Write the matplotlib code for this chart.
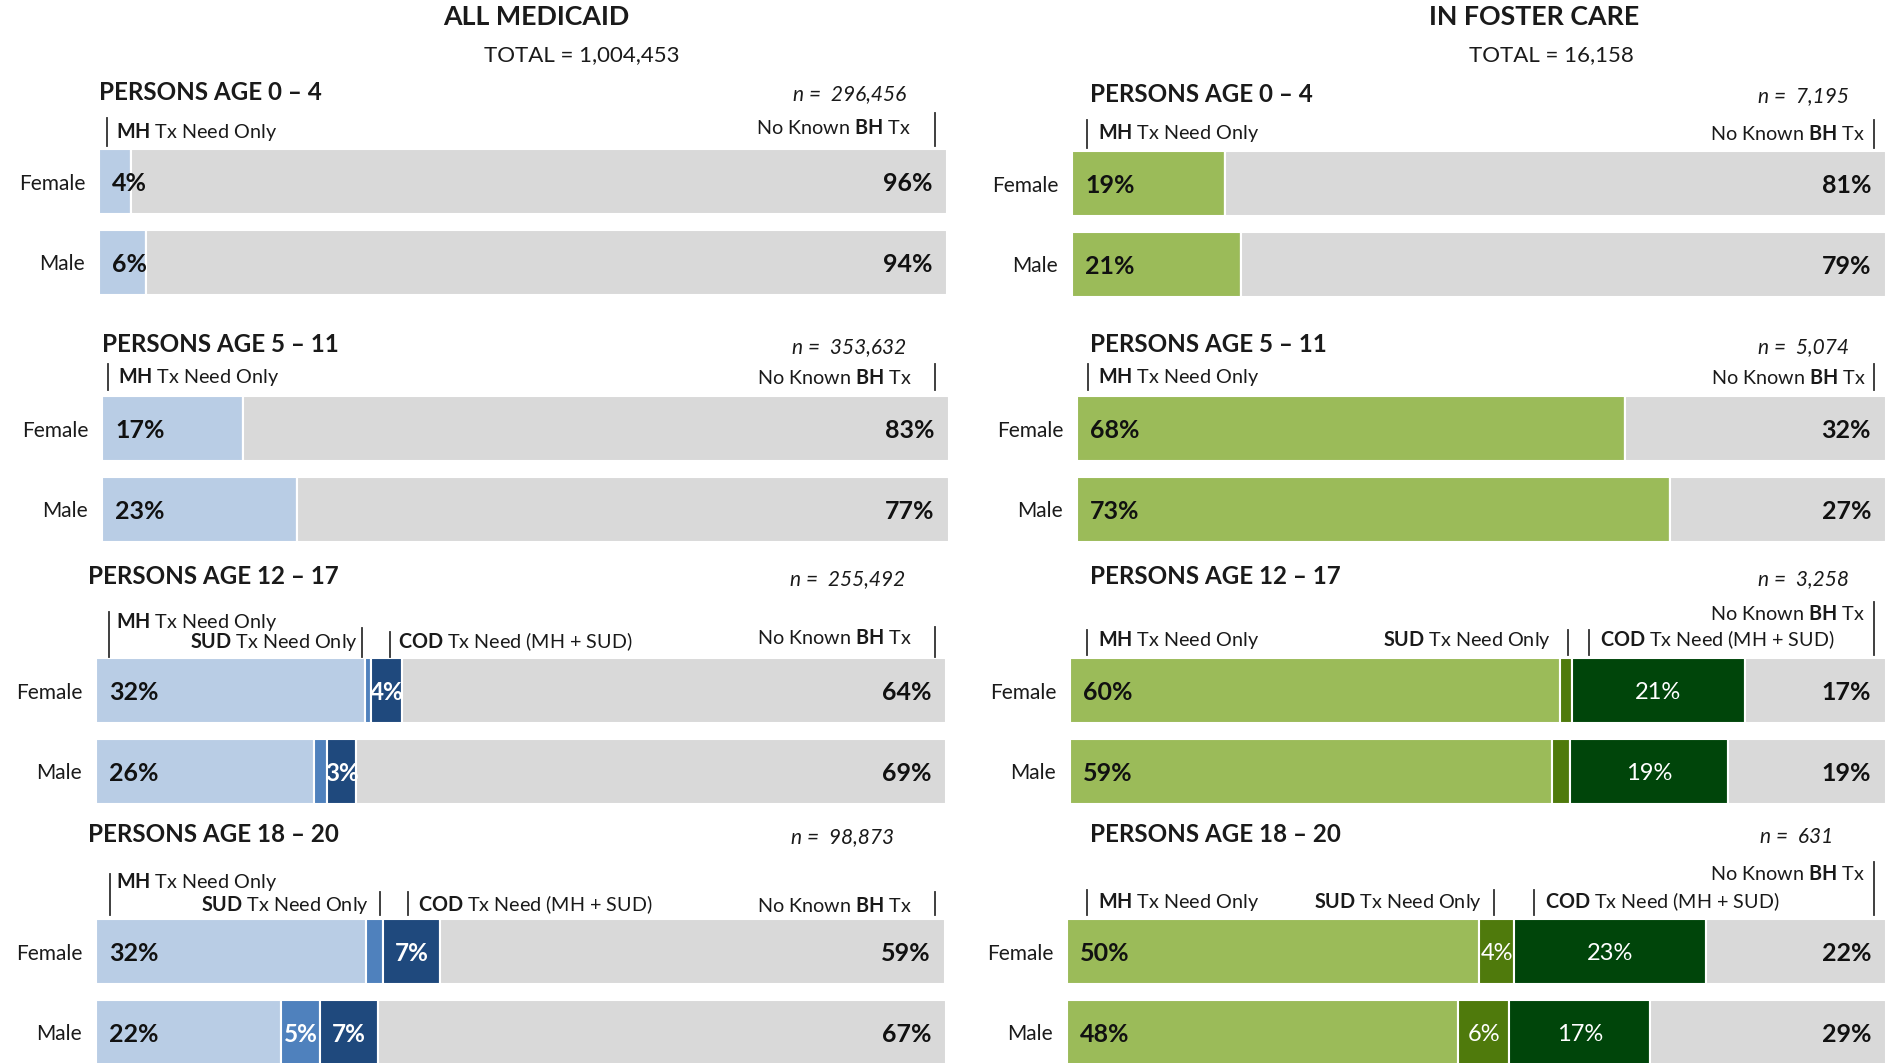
import matplotlib
matplotlib.use('Agg')
import matplotlib.pyplot as plt
import matplotlib.transforms as mtransforms
from matplotlib.lines import Line2D

plt.rcParams['font.family'] = ['Lato', 'DejaVu Sans']
plt.rcParams['mathtext.fontset'] = 'custom'
plt.rcParams['mathtext.rm'] = 'Lato'
plt.rcParams['mathtext.bf'] = 'Lato:bold'
plt.rcParams['mathtext.it'] = 'Lato:italic'

# ---------------- data ----------------
sexes = ['Female', 'Male']
age_groups = ['PERSONS AGE 0 – 4', 'PERSONS AGE 5 – 11',
              'PERSONS AGE 12 – 17', 'PERSONS AGE 18 – 20']

medicaid_total = '1,004,453'
foster_total = '16,158'
medicaid_n = ['296,456', '353,632', '255,492', '98,873']
foster_n = ['7,195', '5,074', '3,258', '631']

# percent of persons, [female, male] for each age group
medicaid_mh = [[3.8, 5.6], [16.6, 23.0], [31.6, 25.6], [31.8, 21.8]]
medicaid_sud = [[0, 0], [0, 0], [0.8, 1.6], [2.0, 4.6]]
medicaid_cod = [[0, 0], [0, 0], [3.6, 3.4], [6.7, 6.8]]
medicaid_none = [[96.2, 94.4], [83.4, 77.0], [64.0, 69.4], [59.4, 66.8]]

foster_mh = [[18.8, 20.8], [67.7, 73.3], [60.0, 59.1], [50.3, 47.8]]
foster_sud = [[0, 0], [0, 0], [1.5, 2.2], [4.3, 6.2]]
foster_cod = [[0, 0], [0, 0], [21.2, 19.3], [23.4, 17.2]]
foster_none = [[81.2, 79.2], [32.3, 26.7], [17.3, 19.4], [22.0, 28.8]]

# ---------------- styling ----------------
W, H = 1901, 1063
GREY = '#D9D9D9'
blues = ['#B9CDE5', '#4F81BD', '#1F497D', GREY]
greens = ['#9BBB59', '#4F7A0C', '#00450A', GREY]
LINE = '#303030'
HDR = 14.2

fig = plt.figure(figsize=(W / 100, H / 100), dpi=100)
fig.patch.set_facecolor('white')

# figure pixel coords, origin top-left
T = mtransforms.Affine2D().scale(1 / W, -1 / H).translate(0, 1) + fig.transFigure


def txt(x, y, s, ha='left', size=HDR, **kw):
    fig.text(x, y, s, transform=T, ha=ha, va='center', fontsize=size, color='#1a1a1a', **kw)


def tick(x, y0, y1):
    fig.add_artist(Line2D([x, x], [y0, y1], transform=T, color=LINE, lw=1.3))


def bars(x0, x1, ytop, mh, sud, cod, none, colors, inner_bold):
    bh = 146
    ax = fig.add_axes([x0 / W, 1 - (ytop + bh) / H, (x1 - x0) / W, bh / H])
    left = [0, 0]
    for k, vals in enumerate([mh, sud, cod, none]):
        ax.barh([0, 1], vals, left=left, height=0.81, color=colors[k],
                edgecolor='white', linewidth=1.5)
        for i, v in enumerate(vals):
            if k == 0:
                ax.annotate(f'{v:.0f}%', (0, i), xytext=(13, 0), textcoords='offset pixels',
                            ha='left', va='center_baseline', fontsize=18, fontweight='bold',
                            color='#111111')
            elif k == 3:
                ax.annotate(f'{v:.0f}%', (100, i), xytext=(-15, 0), textcoords='offset pixels',
                            ha='right', va='center_baseline', fontsize=18, fontweight='bold',
                            color='#111111')
            elif v >= 3:
                ax.text(left[i] + v / 2, i, f'{v:.0f}%', ha='center', va='center_baseline',
                        fontsize=17.5 if inner_bold else 17,
                        fontweight='bold' if inner_bold else 'normal', color='white')
        left = [left[i] + vals[i] for i in range(2)]
    ax.set_xlim(0, 100)
    ax.set_ylim(1.405, -0.405)
    ax.set_yticks([0, 1], sexes, fontsize=15, color='#1a1a1a')
    ax.tick_params(axis='y', length=0, pad=10)
    ax.set_xticks([])
    for s in ax.spines.values():
        s.set_visible(False)
    return ax


# ---------------- left: all medicaid ----------------
txt(536, 17, 'ALL MEDICAID', ha='center', size=19.3, fontweight='bold')
txt(582, 55, 'TOTAL = ' + medicaid_total, ha='center', size=16)

left_x = [(99, 947), (102, 949), (96, 946), (96, 946)]
left_top = [149, 396, 658, 919]
left_title_y = [92, 345, 577, 835]
left_n_x = [906, 906, 905, 894]
for g in range(4):
    x0, x1 = left_x[g]
    bars(x0, x1, left_top[g], medicaid_mh[g], medicaid_sud[g], medicaid_cod[g],
         medicaid_none[g], blues, True)
    txt(x0 - (8 if g >= 2 else 0), left_title_y[g], age_groups[g], size=17.4, fontweight='bold')
    txt(left_n_x[g], left_title_y[g] + 2, 'n =  ' + medicaid_n[g], ha='right', size=15,
        style='italic')

# header rows
txt(116, 132, r'$\mathbf{MH}$ Tx Need Only')
tick(107, 118, 146)
txt(911, 127, r'No Known $\mathbf{BH}$ Tx', ha='right')
tick(935, 113, 146)

txt(118, 377, r'$\mathbf{MH}$ Tx Need Only')
tick(108, 364, 390)
txt(912, 377, r'No Known $\mathbf{BH}$ Tx', ha='right')
tick(935, 364, 390)

txt(116, 622, r'$\mathbf{MH}$ Tx Need Only')
tick(109, 612, 657)
txt(358, 642, r'$\mathbf{SUD}$ Tx Need Only', ha='right')
tick(362, 628, 657)
tick(390, 632, 657)
txt(398, 642, r'$\mathbf{COD}$ Tx Need (MH + SUD)')
txt(912, 637, r'No Known $\mathbf{BH}$ Tx', ha='right')
tick(935, 627, 657)

txt(116, 882, r'$\mathbf{MH}$ Tx Need Only')
tick(110, 874, 915)
txt(369, 905, r'$\mathbf{SUD}$ Tx Need Only', ha='right')
tick(380, 892, 915)
tick(408, 892, 915)
txt(418, 905, r'$\mathbf{COD}$ Tx Need (MH + SUD)')
txt(912, 905, r'No Known $\mathbf{BH}$ Tx', ha='right')
tick(935, 892, 915)

# ---------------- right: in foster care ----------------
txt(1534, 17, 'IN FOSTER CARE', ha='center', size=19.3, fontweight='bold')
txt(1551, 55, 'TOTAL = ' + foster_total, ha='center', size=16)

right_x = [(1072, 1886), (1077, 1886), (1070, 1886), (1067, 1886)]
right_top = [151, 396, 658, 919]
right_title_y = [94, 345, 577, 835]
right_n_x = [1849, 1849, 1849, 1833]
for g in range(4):
    x0, x1 = right_x[g]
    bars(x0, x1, right_top[g], foster_mh[g], foster_sud[g], foster_cod[g],
         foster_none[g], greens, False)
    txt(1090, right_title_y[g], age_groups[g], size=17.4, fontweight='bold')
    txt(right_n_x[g], right_title_y[g] + 2, 'n =  ' + foster_n[g], ha='right', size=15,
        style='italic')

txt(1098, 133, r'$\mathbf{MH}$ Tx Need Only')
tick(1087, 120, 148)
txt(1865, 133, r'No Known $\mathbf{BH}$ Tx', ha='right')
tick(1874, 120, 148)

txt(1098, 377, r'$\mathbf{MH}$ Tx Need Only')
tick(1088, 364, 390)
txt(1866, 377, r'No Known $\mathbf{BH}$ Tx', ha='right')
tick(1874, 364, 390)

txt(1865, 613, r'No Known $\mathbf{BH}$ Tx', ha='right')
tick(1874, 602, 655)
txt(1098, 640, r'$\mathbf{MH}$ Tx Need Only')
tick(1087, 630, 655)
txt(1551, 640, r'$\mathbf{SUD}$ Tx Need Only', ha='right')
tick(1568, 630, 655)
tick(1589, 630, 655)
txt(1600, 640, r'$\mathbf{COD}$ Tx Need (MH + SUD)')

txt(1865, 873, r'No Known $\mathbf{BH}$ Tx', ha='right')
tick(1874, 862, 915)
txt(1098, 902, r'$\mathbf{MH}$ Tx Need Only')
tick(1087, 890, 915)
txt(1482, 902, r'$\mathbf{SUD}$ Tx Need Only', ha='right')
tick(1494, 890, 915)
tick(1534, 890, 915)
txt(1545, 902, r'$\mathbf{COD}$ Tx Need (MH + SUD)')

fig.savefig('out.png', dpi=100, facecolor='white')
